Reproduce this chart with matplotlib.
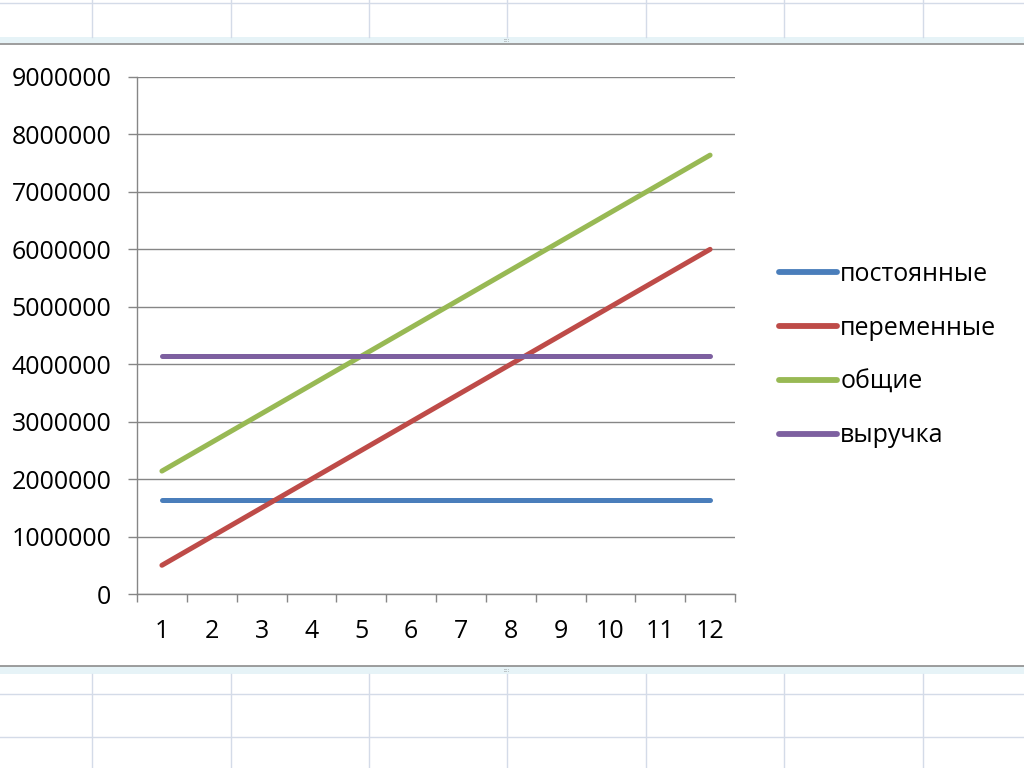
import matplotlib
matplotlib.use("Agg")
import matplotlib.pyplot as plt
from matplotlib.lines import Line2D
from matplotlib.patches import Rectangle

# data
months = [1, 2, 3, 4, 5, 6, 7, 8, 9, 10, 11, 12]
fixed = [1640000, 1640000, 1640000, 1640000, 1640000, 1640000,
         1640000, 1640000, 1640000, 1640000, 1640000, 1640000]
variable = [500000, 1000000, 1500000, 2000000, 2500000, 3000000,
            3500000, 4000000, 4500000, 5000000, 5500000, 6000000]
total = [2140000, 2640000, 3140000, 3640000, 4140000, 4640000,
         5140000, 5640000, 6140000, 6640000, 7140000, 7640000]
revenue = [4140000, 4140000, 4140000, 4140000, 4140000, 4140000,
           4140000, 4140000, 4140000, 4140000, 4140000, 4140000]
labels = ["постоянные", "переменные", "общие", "выручка"]
yticks = [0, 1000000, 2000000, 3000000, 4000000, 5000000,
          6000000, 7000000, 8000000, 9000000]

plt.rcParams['font.family'] = ['Open Sans', 'DejaVu Sans']

W, H = 1024, 768
fig = plt.figure(figsize=(W / 100, H / 100), dpi=100)
fig.patch.set_facecolor("white")

def px(x, y):
    return x / W, 1 - y / H

# spreadsheet grid around the chart
cell_col = "#d4dbe8"
col_x = [92, 231, 369, 507, 646, 784, 923]
for cx in col_x:
    fig.add_artist(Line2D([cx / W] * 2, [1 - 0 / H, 1 - 37 / H], color=cell_col, lw=1))
    fig.add_artist(Line2D([cx / W] * 2, [1 - 674 / H, 0], color=cell_col, lw=1))
for ry in [3, 694, 737]:
    fig.add_artist(Line2D([0, 1], [1 - ry / H] * 2, color=cell_col, lw=1))
# frame bands of the embedded chart
fig.add_artist(Rectangle(px(0, 43), 1, 6 / H, color="#e6f3f7", lw=0))
fig.add_artist(Rectangle(px(0, 674), 1, 8 / H, color="#e6f3f7", lw=0))
fig.add_artist(Line2D([0, 1], [1 - 43.5 / H] * 2, color="#8c8c8c", lw=1.2))
fig.add_artist(Line2D([0, 1], [1 - 666 / H] * 2, color="#8c8c8c", lw=1.2))
fig.text(507 / W, 1 - 40 / H, "::::", fontsize=4, color="#666666", ha="center", va="center")
fig.text(507 / W, 1 - 670 / H, "::::", fontsize=4, color="#666666", ha="center", va="center")

ax = fig.add_axes([137 / W, 1 - 594 / H, (735 - 137) / W, (594 - 77) / H])
grid_col = "#868686"
colors = ["#4a7ebb", "#be4b48", "#98b954", "#7d60a0"]
series = [fixed, variable, total, revenue]
for vals, c, lab in zip(series, colors, labels):
    ax.plot(months, vals, color=c, lw=3.6, solid_capstyle="round", label=lab)

ax.set_xlim(0.5, 12.5)
ax.set_ylim(0, 9000000)
ax.set_yticks(yticks)
ax.set_yticklabels([str(v) for v in yticks])
ax.set_xticks(months)
ax.set_xticklabels([str(m) for m in months])
ax.set_xticks([m - 0.5 for m in months] + [12.5], minor=True)
ax.yaxis.grid(True, color=grid_col, lw=1)
ax.set_axisbelow(True)
for s in ["top", "right"]:
    ax.spines[s].set_visible(False)
for s in ["left", "bottom"]:
    ax.spines[s].set_color(grid_col)
    ax.spines[s].set_linewidth(1)
ax.tick_params(axis="y", length=6.5, width=1, color=grid_col, pad=12, labelsize=18)
ax.tick_params(axis="x", which="major", length=0, pad=18, labelsize=18)
ax.tick_params(axis="x", which="minor", length=6, width=1, color=grid_col)

leg = ax.legend(loc="center left", bbox_to_anchor=(1.036, 0.462), frameon=False,
                fontsize=18, handlelength=2.3, handletextpad=0.15, labelspacing=1.15)
for h in leg.legend_handles:
    h.set_linewidth(4.2)

fig.savefig("out.png", dpi=100)
